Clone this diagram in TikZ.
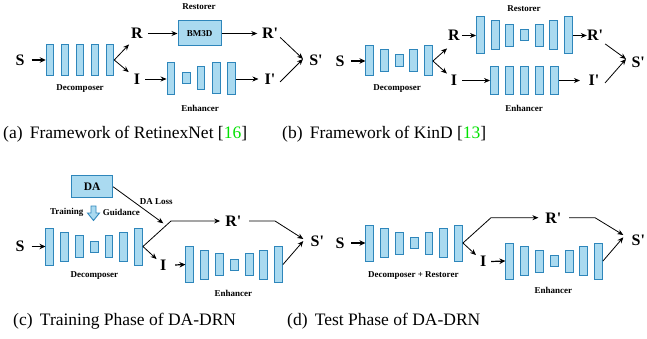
\documentclass[tikz,border=0pt]{standalone}
\usepackage{fontspec}
\setmainfont{Liberation Serif}
\usetikzlibrary{arrows.meta}
\definecolor{blkfill}{RGB}{170,218,240}
\definecolor{blkline}{RGB}{46,134,187}
\definecolor{citegreen}{RGB}{0,225,0}
\newcommand{\pr}{\textquotesingle}
\tikzset{
  blk/.style={draw=blkline, fill=blkfill, line width=1pt, minimum width=7.5pt, inner sep=0pt},
  lbl/.style={inner sep=0pt, font=\fontsize{16}{18}\selectfont\bfseries},
  tag/.style={inner sep=0pt, font=\fontsize{9}{10}\selectfont\bfseries},
  captxt/.style={inner sep=0pt, anchor=west, font=\fontsize{17.5}{20}\selectfont},
  arr/.style={line width=0.8pt, -{Stealth[length=6pt,width=5pt]}},
  thk/.style={line width=1.6pt, -{Stealth[length=6pt,width=5.5pt]}},
  ln/.style={line width=0.8pt}
}
\begin{document}
\begin{tikzpicture}[x=1pt,y=-1pt]
\useasboundingbox (0,0) rectangle (647,339);

% ---------------- (a) RetinexNet ----------------
\node[lbl] (aS) at (20,60) {S};
\foreach \i/\x in {1/50,2/65,3/80,4/95,5/110}
  \node[blk, minimum height=31pt] (aD\i) at (\x,60) {};
\node[tag] (aDlab) at (80,89) {Decomposer};
\node[lbl] (aR) at (137,33.5) {R};
\node[lbl] (aI) at (137,79) {I};
\node[blk, minimum width=43pt, minimum height=25pt, font=\fontsize{9}{10}\selectfont\bfseries, text=black] (aBM) at (199.5,33.5) {BM3D};
\node[tag] (aRlab) at (199,6.5) {Restorer};
\node[blk, minimum height=32pt] (aE1) at (170.8,79) {};
\node[blk, minimum height=11pt] (aE2) at (186.7,78.5) {};
\node[blk, minimum height=23pt] (aE3) at (201,78.5) {};
\node[blk, minimum height=31pt] (aE4) at (216.7,78.5) {};
\node[blk, minimum height=32pt] (aE5) at (231.7,79) {};
\node[tag] (aElab) at (200,108) {Enhancer};
\node[lbl] (aRp) at (270,33.5) {R\pr};
\node[lbl] (aIp) at (270,79) {I\pr};
\node[lbl] (aSp) at (316,60) {S\pr};
\coordinate (aJ) at (303,59);

\draw[thk] ([xshift=7pt]aS.east) -- (aD1.west);
\draw[arr] (aD5.east) -- ([xshift=-2pt,yshift=-5.5pt]aR.south west);
\draw[arr] (aD5.east) -- ([xshift=-5pt,yshift=1.5pt]aI.north west);
\draw[arr] ([xshift=5pt]aR.east) -- (aBM.west);
\draw[arr] (aBM.east) -- ([xshift=-4.5pt]aRp.west);
\draw[arr] ([xshift=5pt]aI.east) -- (aE1.west);
\draw[arr] (aE5.east) -- ([xshift=-6pt]aIp.west);
\draw[arr] ([xshift=2pt,yshift=1.5pt]aRp.south east) -- (aJ);
\draw[arr] ([xshift=4.5pt,yshift=2.5pt]aIp.south east) -- (aJ);

% ---------------- (b) KinD ----------------
\node[lbl] (bS) at (340,61) {S};
\foreach \i/\x/\h in {1/369.7/30,2/384.3/22,3/399.7/12,4/413.7/22,5/428.7/30}
  \node[blk, minimum height=\h pt] (bD\i) at (\x,61) {};
\node[tag] (bDlab) at (397,89) {Decomposer};
\node[lbl] (bR) at (454,35.5) {R};
\node[lbl] (bI) at (454,80.5) {I};
\foreach \i/\x/\h in {1/480.3/37,2/495.3/29,3/509.7/22,4/524.3/11,5/539.7/22,6/553.7/29,7/568.7/37}
  \node[blk, minimum height=\h pt] (bF\i) at (\x,35.5) {};
\node[tag] (bRlab) at (524,9) {Restorer};
\foreach \i/\x in {1/494.3,2/509.7,3/524.7,4/539.7,5/554.7}
  \node[blk, minimum height=28pt] (bE\i) at (\x,80.5) {};
\node[tag] (bElab) at (524,108) {Enhancer};
\node[lbl] (bRp) at (595,35.5) {R\pr};
\node[lbl] (bIp) at (594,80.5) {I\pr};
\node[lbl] (bSp) at (638.2,62) {S\pr};
\coordinate (bJ) at (626,59);

\draw[thk] ([xshift=6.5pt]bS.east) -- (bD1.west);
\draw[arr] (bD5.east) -- ([xshift=-1pt,yshift=-7.5pt]bR.south west);
\draw[arr] (bD5.east) -- ([xshift=-3.8pt,yshift=1.5pt]bI.north west);
\draw[arr] ([xshift=2pt]bR.east) -- (bF1.west);
\draw[arr] (bF7.east) -- (bRp.west);
\draw[arr] ([xshift=5pt]bI.east) -- (bE1.west);
\draw[arr] (bE5.east) -- ([xshift=-8.5pt]bIp.west);
\draw[arr] ([xshift=2pt,yshift=-3pt]bRp.south east) -- (bJ);
\draw[arr] ([xshift=5.5pt,yshift=3pt]bIp.south east) -- (bJ);

% ---------------- (c) DA-DRN, training ----------------
\node[blk, minimum width=41pt, minimum height=22pt, font=\fontsize{11.5}{12}\selectfont\bfseries, text=black] (cDA) at (92.2,186.8) {DA};
\node[tag] (cTr) at (66.7,212.3) {Training};
\node[tag] (cGu) at (121.3,212.3) {Guidance};
\node[tag] (cLoss) at (156.3,201.7) {DA Loss};
% hollow guidance arrow
\draw[draw=blkline, fill=blkfill, line width=0.9pt, line join=miter]
  (91,206) -- (96,206) -- (96,213) -- (99.5,213) -- (93.5,220.5) -- (87.5,213) -- (91,213) -- cycle;
\coordinate (cDL) at (163.3,223.3);
\draw[arr] (cDA.east) -- (cDL);

\node[lbl] (cS) at (20,246.5) {S};
\foreach \i/\x/\h in {1/49.7/37,2/64.3/29,3/79.7/22,4/94.3/11,5/109/22,6/123.7/29,7/138.7/37}
  \node[blk, minimum height=\h pt] (cD\i) at (\x,246.5) {};
\node[tag] (cDlab) at (94.3,275.7) {Decomposer};
\node[lbl] (cRp) at (233.3,221.5) {R\pr};
\node[lbl] (cI) at (163.3,265) {I};
\foreach \i/\x/\h in {1/189.7/36,2/204.7/29,3/219.7/22,4/234.7/11,5/249.3/22,6/263.7/29,7/278.7/36}
  \node[blk, minimum height=\h pt] (cE\i) at (\x,264.5) {};
\node[tag] (cElab) at (233.3,293.3) {Enhancer};
\node[lbl] (cSp) at (317.3,241.7) {S\pr};
\coordinate (cB) at (171,221);
\coordinate (cB2) at (275,221);
\coordinate (cJ1) at (303.3,239);
\coordinate (cJ2) at (303.3,241);

\draw[thk] ([xshift=7pt]cS.east) -- (cD1.west);
\draw[arr] (cD7.east) -- (cB) -- ([xshift=-5pt]cRp.west |- cB);
\draw[arr] (cD7.east) -- ([xshift=-3.4pt,yshift=0.5pt]cI.north west);
\draw[thk, line width=1.2pt] ([xshift=8.5pt]cI.east) -- (cE1.west);
\draw[arr] ([xshift=7.7pt]cRp.east |- cB2) -- (cB2) -- (cJ1);
\draw[arr] (cE7.east) -- (cJ2);

% ---------------- (d) DA-DRN, test ----------------
\node[lbl] (dS) at (340,243) {S};
\foreach \i/\x/\h in {1/369.7/36,2/384.3/29,3/399.7/22,4/414.3/11,5/429/22,6/443.7/29,7/458.7/36}
  \node[blk, minimum height=\h pt] (dD\i) at (\x,243) {};
\node[tag] (dDlab) at (413.3,275.7) {Decomposer + Restorer};
\node[lbl] (dRp) at (553.3,218) {R\pr};
\node[lbl] (dI) at (483.3,261.5) {I};
\foreach \i/\x/\h in {1/509.7/36,2/524.7/29,3/539.7/22,4/554.7/11,5/569.3/22,6/583.7/29,7/598.7/36}
  \node[blk, minimum height=\h pt] (dE\i) at (\x,261) {};
\node[tag] (dElab) at (553.3,290) {Enhancer};
\node[lbl] (dSp) at (638.3,240) {S\pr};
\coordinate (dB) at (491,217.7);
\coordinate (dB2) at (595,217.7);
\coordinate (dJ1) at (623.3,235);
\coordinate (dJ2) at (623.3,237.3);

\draw[thk] ([xshift=6.5pt]dS.east) -- (dD1.west);
\draw[arr] (dD7.east) -- (dB) -- ([xshift=-6.7pt]dRp.west |- dB);
\draw[arr] (dD7.east) -- ([xshift=-4pt,yshift=1pt]dI.north west);
\draw[thk, line width=1.2pt] ([xshift=4.5pt]dI.east) -- (dE1.west);
\draw[arr] ([xshift=7.7pt]dRp.east |- dB2) -- (dB2) -- (dJ1);
\draw[arr] (dE7.east) -- (dJ2);

% ---------------- captions ----------------
\node[captxt] (capA) at (3,134.5) {(a)\ \,Framework of RetinexNet [\textcolor{citegreen}{16}]};
\node[captxt] (capB) at (282,134.5) {(b)\ \,Framework of KinD [\textcolor{citegreen}{13}]};
\node[captxt] (capC) at (13,321.5) {(c)\ \,Training Phase of DA-DRN};
\node[captxt] (capD) at (287,321.5) {(d)\ \,Test Phase of DA-DRN};
\end{tikzpicture}
\end{document}
